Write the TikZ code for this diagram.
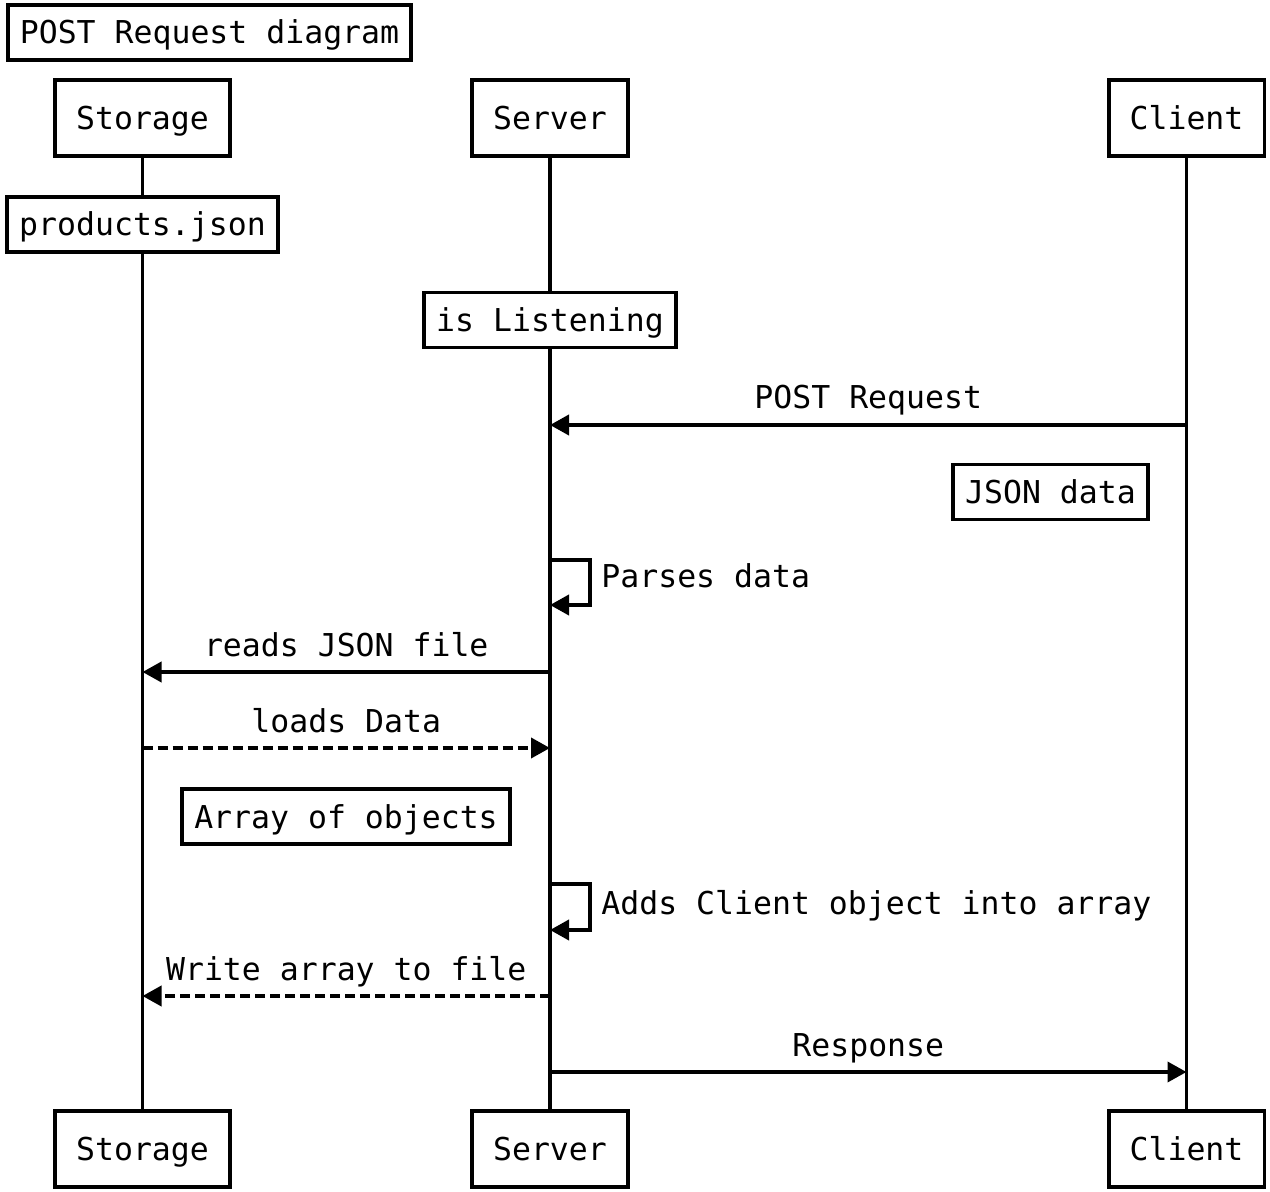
\documentclass[tikz,border=0pt]{standalone}
\usepackage{fontspec}
\newfontfamily\seqfont{DejaVu Sans Mono}
\usetikzlibrary{arrows.meta}
\tikzset{
    actorbox/.style={draw,fill=white,line width=1.9pt,inner xsep=10.5pt,minimum height=38pt,text height=11.5pt,text depth=0pt},
    notebox/.style={draw,fill=white,line width=1.9pt,inner xsep=6pt,minimum height=27.5pt,text height=11.5pt,text depth=0pt},
    msgline/.style={line width=1.9pt,-{Triangle[length=9.5pt,width=10pt]}},
    msgtext/.style={midway,anchor=base,yshift=8pt}
}

\begin{document}
\begin{tikzpicture}[x=0.5pt,y=-0.5pt,every node/.style={font=\seqfont\fontsize{15.75}{18}\selectfont}]
\useasboundingbox (0,0) rectangle (1270,1192);
% participants
\node[notebox] (title) at (209.5,32.5) {POST Request diagram};
\node[actorbox] (stoA) at (142.5,118) {Storage};
\node[actorbox] (srvA) at (550,118) {Server};
\node[actorbox] (cliA) at (1186.5,118) {Client};
\node[actorbox] (stoB) at (142.5,1149) {Storage};
\node[actorbox] (srvB) at (550,1149) {Server};
\node[actorbox] (cliB) at (1186.5,1149) {Client};
\draw[line width=1.9pt] (stoA) -- (stoB);
\draw[line width=1.9pt] (srvA) -- (srvB);
\draw[line width=1.9pt] (cliA) -- (cliB);
% notes
\node[notebox] (prod) at (142.5,224.5) {products.json};
\node[notebox] (listen) at (550,320) {is Listening};
\node[notebox] (jsondata) at (1050.5,492) {JSON data};
\node[notebox] (arr) at (346,816.5) {Array of objects};
% points on the lifelines
\foreach \n/\y in {post/425,parse/560,parseb/605,reads/672,loads/748,adds/884,addsb/930,write/996,resp/1072}{
    \coordinate (sto\n) at (142.5,\y);
    \coordinate (srv\n) at (550,\y);
    \coordinate (cli\n) at (1186.5,\y);
}
% messages
\draw[msgline] (clipost) -- node[msgtext] (postlbl) {POST Request} (srvpost);
\draw[msgline] (srvparse) -- ++(40,0) |- (srvparseb);
\node[anchor=base west,inner sep=0pt] (parselbl) at (601,588) {Parses data};
\draw[msgline] (srvreads) -- node[msgtext] (readslbl) {reads JSON file} (storeads);
\draw[msgline,dash pattern=on 5pt off 2.5pt] (stoloads) -- node[msgtext] (loadslbl) {loads Data} (srvloads);
\draw[msgline] (srvadds) -- ++(40,0) |- (srvaddsb);
\node[anchor=base west,inner sep=0pt] (addslbl) at (601,914) {Adds Client object into array};
\draw[msgline,dash pattern=on 5pt off 2.5pt] (srvwrite) -- node[msgtext] (writelbl) {Write array to file} (stowrite);
\draw[msgline] (srvresp) -- node[msgtext] (resplbl) {Response} (cliresp);
\end{tikzpicture}
\end{document}
